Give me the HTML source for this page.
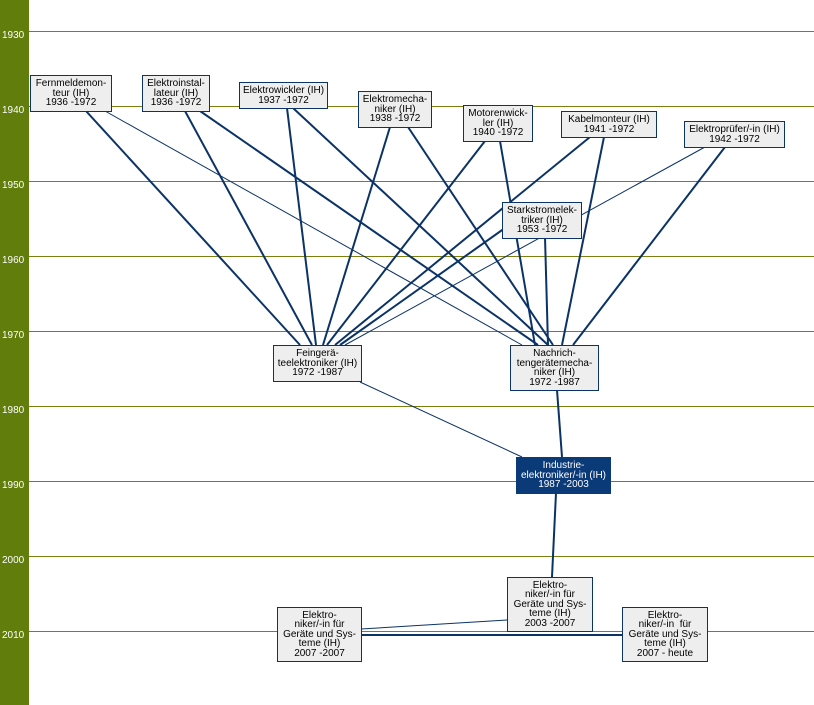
<!DOCTYPE html>
<html><head><meta charset="utf-8"><style>
body{margin:0;width:814px;height:705px;position:relative;background:#fff;overflow:hidden;font-family:"Liberation Sans",sans-serif}
#bar{position:absolute;left:0;top:0;width:29px;height:705px;background:#617d0c}
.yr{position:absolute;left:2px;font-size:10px;color:#fff}
.b{position:absolute;box-sizing:border-box;border:1px solid #0b3366;background:#eeeeee;font-size:10px;line-height:9.5px;text-align:center;color:#000;display:flex;align-items:center;justify-content:center;padding:0 2px}
.d{background:#0b3a78;color:#fff;border-color:#0b3a78}
svg{position:absolute;left:0;top:0}
</style></head><body>
<div id="bar"></div>
<svg width="814" height="705">
<g stroke="#7a7f10" stroke-width="1">
<line x1="29" y1="31.5" x2="814" y2="31.5"/><line x1="29" y1="106.5" x2="814" y2="106.5"/>
<line x1="29" y1="181.5" x2="814" y2="181.5"/><line x1="29" y1="256.5" x2="814" y2="256.5"/>
<line x1="29" y1="331.5" x2="814" y2="331.5"/><line x1="29" y1="406.5" x2="814" y2="406.5"/>
<line x1="29" y1="481.5" x2="814" y2="481.5"/><line x1="29" y1="556.5" x2="814" y2="556.5"/>
<line x1="29" y1="631.5" x2="814" y2="631.5"/>
</g>
<g stroke="#0b3366" stroke-width="2" fill="none">
<line x1="86" y1="111" x2="300" y2="345"/>
<line x1="185" y1="111" x2="312" y2="345"/>
<line x1="200" y1="111" x2="538" y2="345"/>
<line x1="287" y1="108" x2="316" y2="345"/>
<line x1="293" y1="108" x2="548" y2="345"/>
<line x1="390" y1="127" x2="323" y2="345"/>
<line x1="408" y1="127" x2="553" y2="345"/>
<line x1="485" y1="141" x2="327" y2="345"/>
<line x1="500" y1="141" x2="535" y2="345"/>
<line x1="590" y1="137" x2="335" y2="345"/>
<line x1="604" y1="137" x2="562" y2="345"/>
<line x1="725" y1="147" x2="573" y2="345"/>
<line x1="505" y1="228" x2="340" y2="345"/>
<line x1="545" y1="237" x2="548" y2="345"/>
<line x1="557" y1="390" x2="562" y2="457"/>
<line x1="556" y1="493" x2="552" y2="577"/>
<line x1="361" y1="635" x2="622" y2="635"/>
</g>
<g stroke="#0b3366" stroke-width="1" fill="none">
<line x1="105" y1="111" x2="522" y2="345"/>
<line x1="705" y1="147" x2="345" y2="345"/>
<line x1="360" y1="382" x2="522" y2="457"/>
<line x1="507" y1="620" x2="361" y2="629"/>
</g>
</svg>
<div class="yr" style="top:30px">1930</div>
<div class="yr" style="top:105px">1940</div>
<div class="yr" style="top:180px">1950</div>
<div class="yr" style="top:255px">1960</div>
<div class="yr" style="top:330px">1970</div>
<div class="yr" style="top:405px">1980</div>
<div class="yr" style="top:480px">1990</div>
<div class="yr" style="top:555px">2000</div>
<div class="yr" style="top:630px">2010</div>

<div class="b" style="left:30px;top:75px;width:82px;height:37px">Fernmeldemon-<br>teur (IH)<br>1936 -1972</div>
<div class="b" style="left:142px;top:75px;width:68px;height:37px">Elektroinstal-<br>lateur (IH)<br>1936 -1972</div>
<div class="b" style="left:239px;top:82px;width:89px;height:27px">Elektrowickler (IH)<br>1937 -1972</div>
<div class="b" style="left:358px;top:91px;width:74px;height:37px">Elektromecha-<br>niker (IH)<br>1938 -1972</div>
<div class="b" style="left:463px;top:105px;width:70px;height:37px">Motorenwick-<br>ler (IH)<br>1940 -1972</div>
<div class="b" style="left:561px;top:111px;width:96px;height:27px">Kabelmonteur (IH)<br>1941 -1972</div>
<div class="b" style="left:684px;top:121px;width:101px;height:27px">Elektroprüfer/-in (IH)<br>1942 -1972</div>
<div class="b" style="left:502px;top:202px;width:80px;height:37px">Starkstromelek-<br>triker (IH)<br>1953 -1972</div>
<div class="b" style="left:273px;top:345px;width:89px;height:37px">Feingerä-<br>teelektroniker (IH)<br>1972 -1987</div>
<div class="b" style="left:510px;top:345px;width:89px;height:46px">Nachrich-<br>tengerätemecha-<br>niker (IH)<br>1972 -1987</div>
<div class="b d" style="left:516px;top:457px;width:95px;height:37px">Industrie-<br>elektroniker/-in (IH)<br>1987 -2003</div>
<div class="b" style="left:507px;top:577px;width:86px;height:55px">Elektro-<br>niker/-in für<br>Geräte und Sys-<br>teme (IH)<br>2003 -2007</div>
<div class="b" style="left:277px;top:607px;width:85px;height:55px">Elektro-<br>niker/-in für<br>Geräte und Sys-<br>teme (IH)<br>2007 -2007</div>
<div class="b" style="left:622px;top:607px;width:86px;height:55px">Elektro-<br>niker/-in &nbsp;für<br>Geräte und Sys-<br>teme (IH)<br>2007 - heute</div>
</body></html>
